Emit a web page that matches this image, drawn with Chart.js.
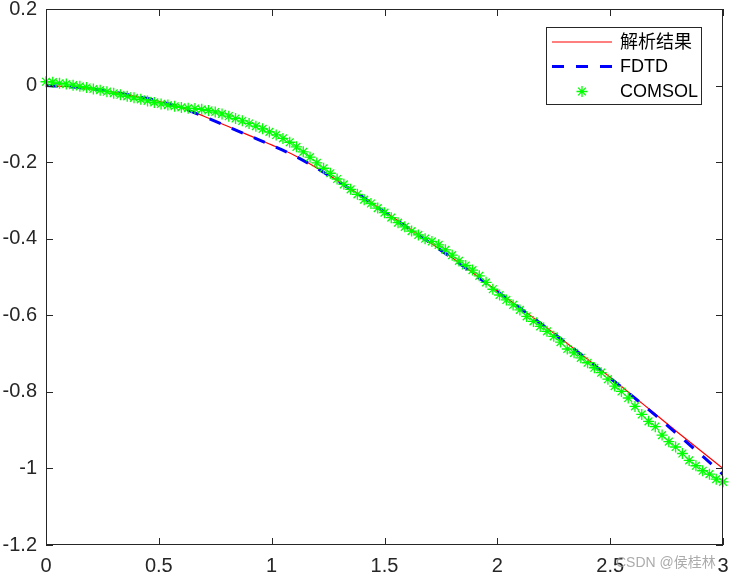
<!DOCTYPE html>
<html>
<head>
<meta charset="utf-8">
<script src="https://cdn.jsdelivr.net/npm/chart.js@4.4.0/dist/chart.umd.min.js"></script>
<style>
  html, body { margin: 0; padding: 0; background: #fff; }
  #wrap { width: 731px; height: 577px; }
</style>
</head>
<body>
<div id="wrap"><canvas id="chart" width="731" height="577"></canvas></div>
<script>
// 解析结果 / FDTD sampled every 0.1
const xLine = [0, 0.1, 0.2, 0.3, 0.4, 0.5, 0.6, 0.7, 0.8, 0.9, 1.0, 1.1, 1.2, 1.3, 1.4, 1.5,
  1.6, 1.7, 1.8, 1.9, 2.0, 2.1, 2.2, 2.3, 2.4, 2.5, 2.6, 2.7, 2.8, 2.9, 3.0];
const analytic = [0, -0.003, -0.009, -0.018, -0.029, -0.041, -0.057, -0.080, -0.105, -0.130, -0.155,
  -0.182, -0.215, -0.251, -0.289, -0.329, -0.369, -0.409, -0.450, -0.493, -0.537, -0.580, -0.624,
  -0.669, -0.715, -0.762, -0.810, -0.858, -0.906, -0.953, -1.000];
const fdtd = [0, -0.003, -0.009, -0.017, -0.028, -0.041, -0.058, -0.081, -0.106, -0.131, -0.156,
  -0.183, -0.216, -0.252, -0.290, -0.330, -0.370, -0.410, -0.451, -0.494, -0.538, -0.581, -0.625,
  -0.670, -0.716, -0.764, -0.812, -0.861, -0.912, -0.963, -1.016];

// COMSOL points
const xComsol = [0, 0.03, 0.06, 0.09, 0.12, 0.15, 0.18, 0.21, 0.24, 0.27, 0.30, 0.33, 0.36, 0.39,
  0.42, 0.45, 0.48, 0.51, 0.54, 0.57, 0.60, 0.63, 0.66, 0.69, 0.72, 0.75, 0.78, 0.81, 0.84, 0.87,
  0.90, 0.93, 0.96, 0.99, 1.02, 1.05, 1.08, 1.11, 1.14, 1.17, 1.20, 1.23, 1.26, 1.29, 1.32, 1.35,
  1.38, 1.41, 1.44, 1.47, 1.50, 1.53, 1.56, 1.59, 1.62, 1.65, 1.68, 1.71, 1.74, 1.77, 1.80, 1.83,
  1.86, 1.89, 1.92, 1.95, 1.98, 2.01, 2.04, 2.07, 2.10, 2.13, 2.16, 2.19, 2.22, 2.25, 2.28, 2.31,
  2.34, 2.37, 2.40, 2.43, 2.46, 2.49, 2.52, 2.55, 2.58, 2.61, 2.64, 2.67, 2.70, 2.73, 2.76, 2.79,
  2.82, 2.85, 2.88, 2.91, 2.94, 2.97, 3.00];
const comsol = [0.010, 0.009, 0.006, 0.004, 0.001, -0.002, -0.005, -0.009, -0.012, -0.016, -0.020,
  -0.024, -0.028, -0.032, -0.036, -0.040, -0.044, -0.048, -0.051, -0.054, -0.057, -0.059, -0.060,
  -0.062, -0.065, -0.069, -0.074, -0.080, -0.086, -0.092, -0.099, -0.106, -0.113, -0.121, -0.129,
  -0.138, -0.148, -0.160, -0.173, -0.187, -0.202, -0.216, -0.229, -0.244, -0.258, -0.271, -0.284,
  -0.298, -0.308, -0.320, -0.332, -0.345, -0.358, -0.369, -0.380, -0.390, -0.400, -0.407, -0.416,
  -0.429, -0.443, -0.458, -0.470, -0.482, -0.497, -0.514, -0.532, -0.547, -0.560, -0.573, -0.586,
  -0.603, -0.616, -0.629, -0.642, -0.655, -0.670, -0.688, -0.698, -0.711, -0.724, -0.737, -0.750,
  -0.767, -0.785, -0.799, -0.816, -0.838, -0.859, -0.877, -0.891, -0.913, -0.930, -0.944, -0.961,
  -0.979, -0.993, -1.006, -1.015, -1.028, -1.035];

const labels = ['解析结果', 'FDTD', 'COMSOL'];
const xRange = [0, 3];
const yRange = [-1.2, 0.2];

const axisColor = '#262626';
const latin = '"Liberation Sans", Arial, sans-serif';
const cjk = '"Liberation Sans", "Noto Sans CJK SC", sans-serif';

function pts(xs, ys) {
  return xs.map((x, i) => ({ x: x, y: ys[i] }));
}

// box, inward ticks, legend and watermark
const frame = {
  id: 'frame',
  afterDatasetsDraw(chart) {
    const { ctx, chartArea: a, scales } = chart;
    const sx = scales.x, sy = scales.y;
    const tl = 7;
    ctx.save();
    ctx.strokeStyle = axisColor;
    ctx.lineWidth = 1;
    ctx.strokeRect(a.left + 0.5, a.top + 0.5, a.right - a.left - 1, a.bottom - a.top - 1);
    ctx.beginPath();
    sx.ticks.forEach(t => {
      const p = Math.round(sx.getPixelForValue(t.value)) + 0.5;
      ctx.moveTo(p, a.bottom); ctx.lineTo(p, a.bottom - tl);
      ctx.moveTo(p, a.top); ctx.lineTo(p, a.top + tl);
    });
    sy.ticks.forEach(t => {
      const p = Math.round(sy.getPixelForValue(t.value)) + 0.5;
      ctx.moveTo(a.left, p); ctx.lineTo(a.left + tl, p);
      ctx.moveTo(a.right, p); ctx.lineTo(a.right - tl, p);
    });
    ctx.stroke();

    // legend
    const L = 546, T = 27, W = 155, H = 77;
    ctx.fillStyle = '#fff';
    ctx.fillRect(L, T, W, H);
    ctx.strokeStyle = axisColor;
    ctx.strokeRect(L + 0.5, T + 0.5, W, H);
    const rows = [42, 66.5, 91.5];
    const ds = chart.data.datasets;
    ds.forEach((d, i) => {
      const y = rows[i];
      ctx.save();
      if (d.showLine) {
        ctx.strokeStyle = d.borderColor;
        ctx.lineWidth = d.borderWidth;
        ctx.setLineDash(d.borderDash || []);
        ctx.beginPath();
        ctx.moveTo(552, y); ctx.lineTo(612, y);
        ctx.stroke();
      } else {
        ctx.strokeStyle = d.pointBorderColor;
        ctx.lineWidth = d.pointBorderWidth;
        const r = d.pointRadius;
        ctx.beginPath();
        ctx.moveTo(582 - r, y); ctx.lineTo(582 + r, y);
        ctx.moveTo(582, y - r); ctx.lineTo(582, y + r);
        const q = r * Math.SQRT1_2;
        ctx.moveTo(582 - q, y - q); ctx.lineTo(582 + q, y + q);
        ctx.moveTo(582 - q, y + q); ctx.lineTo(582 + q, y - q);
        ctx.stroke();
      }
      ctx.restore();
      ctx.fillStyle = '#000';
      ctx.font = '18px ' + cjk;
      ctx.textBaseline = 'middle';
      ctx.fillText(d.label, 620, y + 1);
    });

    // watermark
    ctx.fillStyle = 'rgba(150,150,150,0.8)';
    ctx.font = '14px ' + cjk;
    ctx.textBaseline = 'alphabetic';
    ctx.fillText('CSDN @侯桂林', 616, 567);
    ctx.restore();
  }
};

function noPad(s) {
  s.paddingTop = 0;
  s.paddingBottom = 0;
  s.paddingLeft = 0;
  s.paddingRight = 0;
}

new Chart(document.getElementById('chart'), {
  type: 'scatter',
  data: {
    datasets: [
      {
        label: labels[0],
        data: pts(xLine, analytic),
        showLine: true,
        borderColor: '#ff0000',
        borderWidth: 1.2,
        pointRadius: 0,
        cubicInterpolationMode: 'monotone',
        order: 2
      },
      {
        label: labels[1],
        data: pts(xLine, fdtd),
        showLine: true,
        borderColor: '#0000ff',
        borderWidth: 3,
        borderDash: [12, 12],
        borderCapStyle: 'butt',
        pointRadius: 0,
        cubicInterpolationMode: 'monotone',
        order: 1
      },
      {
        label: labels[2],
        data: pts(xComsol, comsol),
        showLine: false,
        pointStyle: 'star',
        pointRadius: 5.5,
        pointBorderColor: '#00ff00',
        pointBackgroundColor: '#00ff00',
        pointBorderWidth: 1.3,
        clip: false,
        order: 0
      }
    ]
  },
  options: {
    responsive: false,
    animation: false,
    events: [],
    layout: { padding: { top: 9, right: 8, left: 0, bottom: 0 } },
    plugins: { legend: { display: false }, tooltip: { enabled: false } },
    scales: {
      x: {
        type: 'linear',
        min: xRange[0],
        max: xRange[1],
        grid: { display: false, drawTicks: false },
        border: { display: false },
        ticks: {
          stepSize: 0.5,
          padding: 9,
          color: axisColor,
          font: { family: latin, size: 20 },
          maxRotation: 0,
          callback: v => String(+v.toFixed(1))
        },
        afterFit: s => { s.height = 32; noPad(s); }
      },
      y: {
        type: 'linear',
        min: yRange[0],
        max: yRange[1],
        grid: { display: false, drawTicks: false },
        border: { display: false },
        ticks: {
          stepSize: 0.2,
          padding: 9,
          color: axisColor,
          font: { family: latin, size: 20 },
          callback: v => String(+v.toFixed(1))
        },
        afterFit: s => { s.width = 46; noPad(s); }
      }
    }
  },
  plugins: [frame]
});
</script>
</body>
</html>
